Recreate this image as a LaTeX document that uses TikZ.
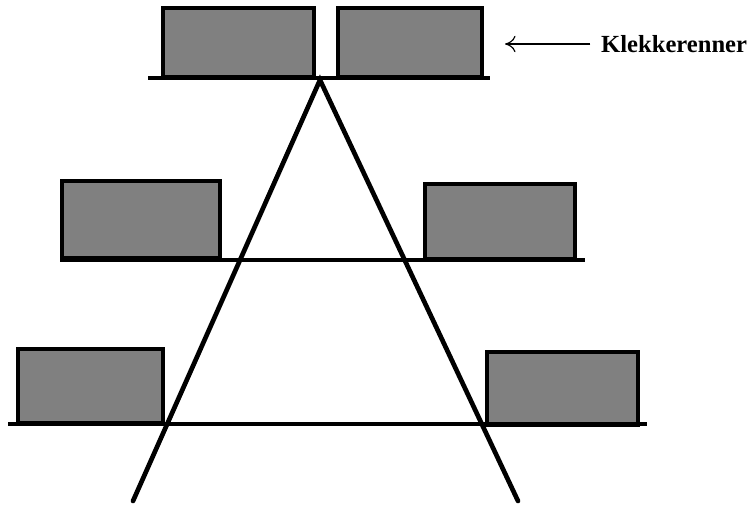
\documentclass[tikz,border=0pt]{standalone}
\usepackage{fontspec}
\setmainfont{Liberation Serif}
\usetikzlibrary{arrows,arrows.meta,positioning}

\tikzset{
  kasse/.style={line width=3.2pt,fill=black!50},
  hylle/.style={line width=3.6pt},
  bein/.style={line width=4pt,line cap=round}
}

\begin{document}
\begin{tikzpicture}[x=0.03cm,y=-0.03cm]
    \useasboundingbox (0,0) rectangle (755,506);
    % kassene
    \foreach \xa/\ya/\xb/\yb in {163/8/314/77, 338/8/482/77, 62/181/220/258, 425/184/575/259, 18/349/163/423, 487/352/638/425}
      \draw[kasse] (\xa,\ya) rectangle (\xb,\yb);
    % hyllene
    \foreach \xa/\xb/\y in {148/490/78, 60/585/260, 8/647/424}
      \draw[hylle] (\xa,\y)--(\xb,\y);
    % stativet
    \coordinate (topp) at (320,80);
    \coordinate (venstre) at (133,501);
    \coordinate (hoyre) at (518,501);
    \draw[bein] (venstre)--(topp)--(hoyre);
    % merkelapp
    \node[anchor=west,inner sep=0pt] (klekk) at (601,44)
      {\fontsize{21}{24}\selectfont\bfseries Klekkerenner};
    \coordinate (pil) at (505,44);
    \draw[-{To[length=9pt,width=14pt]},line width=1pt] ([xshift=-9pt]klekk.west)--(pil);
  \end{tikzpicture}
\end{document}
